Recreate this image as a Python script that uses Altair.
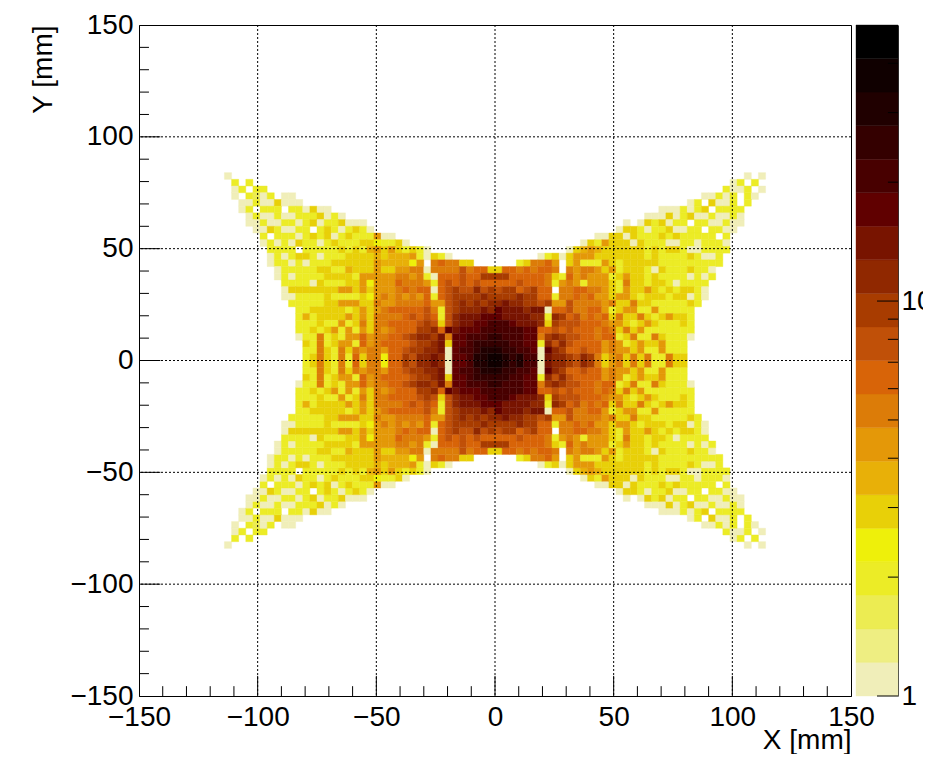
import altair as alt

PALETTE = ["#f0eeb9", "#eeee82", "#ecec52", "#ecec26", "#eef00a", "#e8d008", "#e8b008", "#e49808",
           "#dc7c08", "#d86408", "#c05008", "#a83c00", "#902800", "#781400", "#600000", "#480000",
           "#340000", "#200000", "#100000", "#000000"]
LEVELS = "0123456789abcdefghij"
Z_MAX = 50
TOP_ROW = 22
X_MAJOR = [-150, -100, -50, 0, 50, 100, 150]
Y_MAJOR = [-150, -100, -50, 0, 50, 100, 150]
GRID_LINES = [-100, -50, 0, 50, 100]
Z_MAJOR = [1, 10]
Z_MINOR = [2, 3, 4, 5, 6, 7, 8, 9, 20, 30, 40]

LEFT_START = [12, 13, 13, 13, 14, 14, 15, 15, 16, 17, 17, 18, 18, 18, 19, 19, 20, 20, 20, 21, 22, 22, 22, 22, 22, 23, 23, 23]
LEFT_ROWS = [
    "0", "3.3", "03.33", "0.3203.00", "003005000", "03.333.330500",
    "03003003335030", "00300330350335000", "00530033.35303530",
    "3.33303535035333700", "030305330353335543350", "3333.333335353675753530",
    "03035530333555565666730530", "0330303335555557666647.898855",
    "03333355336555755778808888a8995", "03033335555377777887830999a99bb",
    "33330533355747779888739a9a9a99", "05555555775757778989909abaacab",
    "00333353333547878787939abbbbcb", "3333355777558778888977abcbcbc",
    "335555535757899999a83abcccdc", "3635555757588889a9a93acdddee",
    "33353373585889999aba5acddeef", "33535737375878999bbc9edeeeff",
    "033835377978899abccbd8eefffg", "538357739789999abbcd5eefggg",
    "33853858788799abbccd0effghh", "35853839588499baccdc0eefhhi",
]
RIGHT_START = [85, 83, 82, 79, 77, 73, 71, 68, 67, 64, 62, 60, 56, 53, 50, 50, 50, 50, 50, 50, 50, 50, 50, 50, 50, 50, 50, 50]
RIGHT_ROWS = [
    "0.0", "03.3", "3003.0", "00303.30", "03.5003.3", "0003035.3333",
    "00050350030030", "0.0535033.3300300", "055303350033.3300",
    "00550533353533333.3", "053755505333003303330", "05676555555353553003333",
    "03505777555555535333353003", "358897.5733375355555333333333",
    "599898998.878875735553053335330", "bb99999853978777357553533330303",
    "999a99983787377753855355303333", "abb9ab99.889988753755753535530",
    "bbbcbb993889897757753555355030", "cdccbbab77a888878558553333353",
    "edddcdd099a88997357733733333", "eddddcc3cb9a8989585585357553",
    "ffedddc5baaa9998775357533353", "ffffee99a9a99989858573333333",
    "gfffee8bcbaa9989935833853330", "ggffee3caca9999787357557333",
    "hggffe0ecb99a99787757337333", "ihghff0dccbacb8578585833855",
]

cells = []
for i in range(len(LEFT_ROWS)):
    m = TOP_ROW + i
    for starts, rows in ((LEFT_START, LEFT_ROWS), (RIGHT_START, RIGHT_ROWS)):
        for j, ch in enumerate(rows[i]):
            if ch == ".":
                continue
            k = starts[i] + j
            x0 = -150 + 3 * k
            ytop = 150 - 3 * m
            cells.append({"x": x0, "x2": x0 + 3, "y": ytop - 3, "y2": ytop, "lev": ch})
            cells.append({"x": x0, "x2": x0 + 3, "y": -ytop, "y2": -ytop + 3, "lev": ch})

lev_scale = alt.Scale(domain=list(LEVELS), range=PALETTE)
x_scale = alt.Scale(domain=[-150, 150], nice=False, zero=False)
y_scale = alt.Scale(domain=[-150, 150], nice=False, zero=False)
FONT = "Liberation Sans"
FS = 28

x_axis = alt.Axis(
    values=X_MAJOR, grid=False, ticks=False, domainColor="black", labelColor="black", labelFont=FONT,
    labelFontSize=FS, labelPadding=7, labelFlush=False, labelOverlap=False, title="X [mm]", titleFont=FONT,
    titleFontSize=FS, titleFontWeight="normal", titleAnchor="end", titleColor="black", titlePadding=-5)
y_axis = alt.Axis(
    values=Y_MAJOR, grid=False, ticks=False, domainColor="black", labelColor="black", labelFont=FONT,
    labelFontSize=FS, labelPadding=6, labelFlush=False, labelOverlap=False, title="Y [mm]", titleFont=FONT,
    titleFontSize=FS, titleFontWeight="normal", titleAnchor="end", titleColor="black", titlePadding=12)
X = lambda f: alt.X(f, scale=x_scale, axis=x_axis)
Y = lambda f: alt.Y(f, scale=y_scale, axis=y_axis)

heat = alt.Chart(alt.Data(values=cells)).mark_rect(strokeWidth=0.4).encode(
    x=X("x:Q"), x2="x2:Q", y=Y("y:Q"), y2="y2:Q",
    color=alt.Color("lev:N", scale=lev_scale, legend=None),
    stroke=alt.Color("lev:N", scale=lev_scale, legend=None),
)

grid_v = alt.Chart(alt.Data(values=[{"x": v} for v in GRID_LINES])).mark_rule(
    color="black", strokeWidth=1, strokeDash=[2, 2]).encode(x=X("x:Q"))
grid_h = alt.Chart(alt.Data(values=[{"y": v} for v in GRID_LINES])).mark_rule(
    color="black", strokeWidth=1, strokeDash=[2, 2]).encode(y=Y("y:Q"))

X_MAJOR_LEN = 9.0
X_MINOR_LEN = 4.4
Y_MAJOR_LEN = 9.0
Y_MINOR_LEN = 4.2
tx = [{"x": v, "y": -150, "y2": -150 + (X_MAJOR_LEN if v % 50 == 0 else X_MINOR_LEN)} for v in range(-140, 150, 10)]
ty = [{"y": v, "x": -150, "x2": -150 + (Y_MAJOR_LEN if v % 50 == 0 else Y_MINOR_LEN)} for v in range(-140, 150, 10)]
ticks_x = alt.Chart(alt.Data(values=tx)).mark_rule(color="black", strokeWidth=1).encode(
    x=X("x:Q"), y=Y("y:Q"), y2="y2:Q")
ticks_y = alt.Chart(alt.Data(values=ty)).mark_rule(color="black", strokeWidth=1).encode(
    y=Y("y:Q"), x=X("x:Q"), x2="x2:Q")

main = alt.layer(heat, grid_v, grid_h, ticks_x, ticks_y).properties(width=712, height=671)

# colour bar
n = len(PALETTE)
bar = [{"lo": Z_MAX ** (i / n), "hi": Z_MAX ** ((i + 1) / n), "lev": c, "a": 0, "b": 1}
       for i, c in enumerate(LEVELS)]
z_scale = alt.Scale(type="log", domain=[1, Z_MAX], nice=False)
u_scale = alt.Scale(domain=[0, 1], nice=False, zero=False)
z_axis = alt.Axis(
    orient="right", values=Z_MAJOR, grid=False, ticks=False, domainColor="#333333", labelColor="black",
    labelFont=FONT, labelFontSize=FS, labelPadding=3, labelOverlap=False, labelFlush=False, format="d", title=None)
bar_rect = alt.Chart(alt.Data(values=bar)).mark_rect(strokeWidth=0.4).encode(
    x=alt.X("a:Q", scale=u_scale, axis=None), x2="b:Q",
    y=alt.Y("lo:Q", scale=z_scale, axis=z_axis), y2="hi:Q",
    color=alt.Color("lev:N", scale=lev_scale, legend=None),
    stroke=alt.Color("lev:N", scale=lev_scale, legend=None),
)
bt = [{"z": z, "a": 0.5, "b": 1} for z in Z_MAJOR] + [{"z": z, "a": 0.76, "b": 1} for z in Z_MINOR]
bar_ticks = alt.Chart(alt.Data(values=bt)).mark_rule(color="black", strokeWidth=1).encode(
    y=alt.Y("z:Q", scale=z_scale, axis=z_axis), x=alt.X("a:Q", scale=u_scale, axis=None), x2="b:Q")
cbar = alt.layer(bar_rect, bar_ticks).properties(width=42, height=671, view=alt.ViewConfig(stroke=None))

chart = alt.hconcat(main, cbar, spacing=5, bounds="flush",
                    padding={"left": 21, "top": 2, "right": -10, "bottom": -1}).resolve_scale(
    color="independent", stroke="independent"
).configure_view(stroke="black", strokeWidth=1)
chart.save("out.html", embed_options={"renderer": "svg", "actions": False})
